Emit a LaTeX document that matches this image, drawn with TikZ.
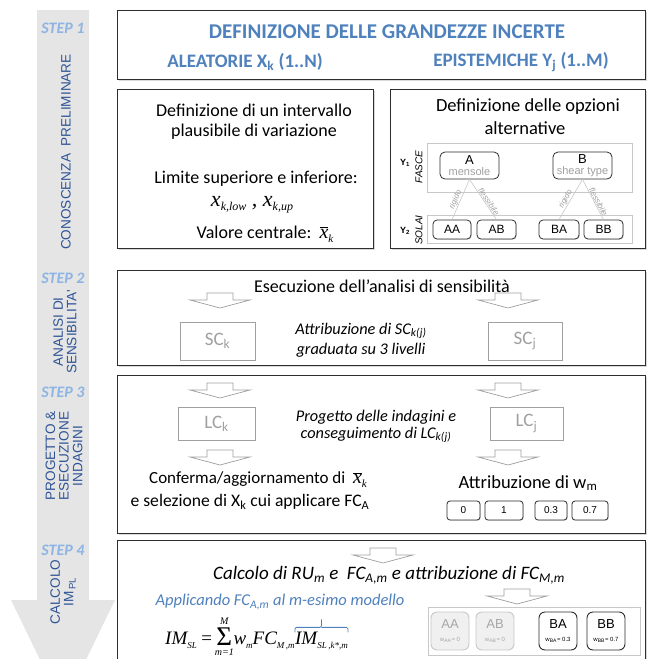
\documentclass[tikz,border=0pt]{standalone}
\usepackage{fontspec}
\setmainfont{Carlito}
\newfontfamily\arial{Liberation Sans}
\newfontfamily\tms{Liberation Serif}
\usetikzlibrary{shadows}

\definecolor{titleblue}{RGB}{79,129,189}
\definecolor{sideblue}{RGB}{46,84,150}
\definecolor{steplight}{RGB}{142,180,227}
\definecolor{bandgray}{RGB}{229,229,229}
\definecolor{framegray}{RGB}{45,45,45}
\definecolor{softgray}{RGB}{160,160,160}
\definecolor{rulegray}{RGB}{200,200,200}

\newcommand\fsz[1]{\fontsize{#1}{#1}\selectfont}
% small italic Times subscript, lowered
\newcommand\tsub[2][11]{\raisebox{-4pt}{\fsz{#1}#2}}
\newcommand\xbark{$\overline{\hbox{\tms\itshape\fsz{20}x}}$\tsub[11]{\tms\itshape k}}

\tikzset{
  panel/.style={draw=framegray, line width=1pt, fill=white, inner sep=0pt,
    anchor=north west,
    drop shadow={shadow xshift=1.2pt, shadow yshift=-1.2pt, opacity=0.3}},
  steplabel/.style={font=\bfseries\itshape\fsz{16}, text=steplight},
  sidelabel/.style={font=\arial\fsz{13.6}, text=sideblue, rotate=90, align=center},
  body/.style={font=\fsz{18}},
  ibody/.style={font=\itshape\fsz{16.3}},
  optbox/.style={draw=framegray, line width=0.8pt, rounded corners=5pt, fill=white,
    inner sep=0pt, align=center, font=\arial},
  leafbox/.style={draw=framegray, line width=0.8pt, rounded corners=4pt, fill=white,
    inner sep=0pt, minimum height=19pt, font=\arial\fsz{12},
    drop shadow={shadow xshift=0.8pt, shadow yshift=-0.8pt, opacity=0.25}},
  wbox/.style={draw=framegray, line width=0.8pt, rounded corners=3pt, fill=white,
    inner sep=0pt, minimum height=19pt, font=\arial\fsz{10},
    drop shadow={shadow xshift=0.8pt, shadow yshift=-0.8pt, opacity=0.25}},
  grayframe/.style={draw=rulegray, line width=0.7pt, inner sep=0pt, anchor=north west},
  lvlbox/.style={draw=softgray, line width=0.8pt, inner sep=0pt, text=softgray,
    font=\fsz{19}},
  mbox/.style={rounded corners=6pt, line width=0.9pt, inner sep=0pt, align=center,
    minimum width=38pt, minimum height=38pt, font=\arial},
  branch/.style={draw=rulegray, line width=0.6pt},
  branchlab/.style={sloped, above, inner sep=0.5pt, text=softgray, font=\arial\itshape\fsz{8}},
  fpart/.style={anchor=base west, inner sep=0pt, font=\tms\itshape\fsz{19}},
  flimit/.style={inner sep=0pt, font=\tms\itshape\fsz{10}},
  downarrow/.pic={\draw[draw=softgray, fill=white, line width=0.7pt]
    (-13,0) -- (13,0) -- (13,7) -- (30,7) -- (0,15) -- (-30,7) -- (-13,7) -- cycle;}
}

\begin{document}
\begin{tikzpicture}[x=1pt,y=-1pt]
\useasboundingbox (0,0) rectangle (647,659);
\clip (0,0) rectangle (647,659);

% left band with the process arrow
\fill[bandgray] (37,10) -- (89,10) -- (89,600) -- (115,600) -- (63,707)
  -- (11,600) -- (37,600) -- cycle;

\node[steplabel] (s1) at (63,28) {STEP 1};
\node[steplabel] (s2) at (63,278) {STEP 2};
\node[steplabel] (s3) at (63,392) {STEP 3};
\node[steplabel] (s4) at (63,550) {STEP 4};

\node[sidelabel] (c1) at (66,152) {CONOSCENZA\ \ PRELIMINARE};
\node[sidelabel] (c2) at (65,332) {ANALISI DI\\SENSIBILITA'};
\node[sidelabel] (c3) at (64,456) {PROGETTO \&\\ESECUZIONE\\INDAGINI};
\node[sidelabel] (c4) at (63,592) {CALCOLO\\IM\,\textsubscript{PL}};

% panels
\node[panel, minimum width=528pt, minimum height=69pt] (p1) at (117,10) {};
\node[panel, minimum width=256pt, minimum height=159pt] (p2l) at (117,89) {};
\node[panel, minimum width=255pt, minimum height=159pt] (p2r) at (390,89) {};
\node[panel, minimum width=528pt, minimum height=95pt] (p3) at (117,270) {};
\node[panel, minimum width=528pt, minimum height=158pt] (p4) at (117,375) {};
\node[panel, minimum width=528pt, minimum height=140pt] (p5) at (117,540) {};

% step 1: uncertain quantities
\node[font=\bfseries\fsz{21}, text=titleblue] (title) at (387,32)
  {DEFINIZIONE DELLE GRANDEZZE INCERTE};
\node[font=\bfseries\fsz{19}, text=titleblue] (alea) at (245,62)
  {ALEATORIE X\textsubscript{k} (1..N)};
\node[font=\bfseries\fsz{19}, text=titleblue] (epis) at (521,62)
  {EPISTEMICHE Y\textsubscript{j} (1..M)};

\node[body] (d1) at (254,110) {Definizione di un intervallo};
\node[body] (d2) at (254,132) {plausibile di variazione};
\node[body] (d3) at (256,179) {Limite superiore e inferiore:};
\node (d4) at (252,205) {\tms\itshape\fsz{22}x\tsub[12]{k,low}\ , x\tsub[12]{k,up}};
\node[body] (d5) at (265,234) {Valore centrale:\ \ \xbark};

\node[body, font=\fsz{18.5}] (o1) at (528,107) {Definizione delle opzioni};
\node[body, font=\fsz{18.5}] (o2) at (525,128) {alternative};

\node[grayframe, minimum width=205pt, minimum height=49pt] (r1) at (427,143) {};
\node[grayframe, minimum width=205pt, minimum height=28pt] (r2) at (427,215) {};

\node[font=\arial\bfseries\fsz{9}] (y1) at (405,163) {Y\textsubscript{1}};
\node[font=\arial\itshape\fsz{10}, rotate=90] (fasce) at (419,167) {FASCE};
\node[font=\arial\bfseries\fsz{9}] (y2) at (405,231) {Y\textsubscript{2}};
\node[font=\arial\itshape\fsz{10}, rotate=90] (solai) at (419,230) {SOLAI};

\node[optbox, minimum width=59pt, minimum height=27pt] (A) at (469.5,165.5)
  {\fsz{13}A\\[-1pt]{\color{softgray}\fsz{11}mensole}};
\node[optbox, minimum width=59pt, minimum height=27pt] (B) at (582.5,165.5)
  {\fsz{13}B\\[-1pt]{\color{softgray}\fsz{11}shear type}};

\node[leafbox, minimum width=38pt] (AA) at (452,229.5) {AA};
\node[leafbox, minimum width=39pt] (AB) at (496.5,229.5) {AB};
\node[leafbox, minimum width=40pt] (BA) at (559,229.5) {BA};
\node[leafbox, minimum width=39pt] (BB) at (603.5,229.5) {BB};

\draw[branch] (A.south) -- node[branchlab, pos=0.55] {rigido} (AA.north);
\draw[branch] (A.south) -- node[branchlab, pos=0.6] {flessibile} (AB.north);
\draw[branch] (B.south) -- node[branchlab, pos=0.55] {rigido} (BA.north);
\draw[branch] (B.south) -- node[branchlab, pos=0.6] {flessibile} (BB.north);

% step 2: sensitivity analysis
\node[font=\fsz{18}] (sens) at (382,286) {Esecuzione dell’analisi di sensibilità};
\pic at (220,293) {downarrow};
\pic at (508,293) {downarrow};
\node[lvlbox, minimum width=75pt, minimum height=38pt] (SCk) at (217.5,341)
  {SC\textsubscript{k}};
\node[lvlbox, minimum width=74pt, minimum height=38pt] (SCj) at (525,341)
  {SC\textsubscript{j}};
\node[ibody] (sc1) at (361,331) {Attribuzione di SC\textsubscript{k(j)}};
\node[ibody] (sc2) at (361,350) {graduata su 3 livelli};

% step 3: surveys
\pic at (220,383) {downarrow};
\pic at (508,383) {downarrow};
\node[lvlbox, minimum width=77pt, minimum height=33pt] (LCk) at (216.5,423.5)
  {LC\textsubscript{k}};
\node[lvlbox, minimum width=73pt, minimum height=33pt] (LCj) at (526.5,423.5)
  {LC\textsubscript{j}};
\pic at (220,450) {downarrow};
\pic at (508,450) {downarrow};
\node[ibody] (lc1) at (376,417) {Progetto delle indagini e};
\node[ibody] (lc2) at (376,435) {conseguimento di LC\textsubscript{k(j)}};

\node[body, font=\fsz{17}] (cf1) at (258,480) {Conferma/aggiornamento di\ \ \xbark};
\node[body, font=\fsz{17.6}] (cf2) at (250,502) {e selezione di X\textsubscript{k} cui applicare FC\textsubscript{A}};
\node[body, font=\fsz{18.5}] (wm) at (528,483) {Attribuzione di w\textsubscript{m}};

\node[wbox, minimum width=33pt] (w0) at (463.5,510.5) {0};
\node[wbox, minimum width=38pt] (w1) at (504,510.5) {1};
\node[wbox, minimum width=32pt] (w3) at (551,510.5) {0.3};
\node[wbox, minimum width=36pt] (w7) at (590,510.5) {0.7};

% step 4: model computation
\pic at (383,548) {downarrow};
\node[font=\itshape\fsz{19}] (calc) at (389,575)
  {Calcolo di RU\textsubscript{m} e\ \ FC\textsubscript{A,m} e attribuzione di FC\textsubscript{M,m}};
\pic at (517,589) {downarrow};
\node[font=\itshape\fsz{16.5}, text=titleblue] (appl) at (280,602)
  {Applicando FC\textsubscript{A,m} al m-esimo modello};

% IM_SL = sum_{m=1}^{M} w_m FC_{M,m} IM_{SL,k*,m}
\node[fpart] (f1) at (165,644) {IM\tsub[9]{SL}\,=\,};
\node[fpart, font=\tms\fsz{27}, yshift=-1.5pt] (f2) at (f1.base east) {Σ};
\node[flimit, anchor=base] (fM) at ([yshift=21pt]f2.base) {M};
\node[flimit, anchor=north] (fm) at ([yshift=-3pt]f2.base) {m=1};
\node[fpart, xshift=1pt] (f3) at (f2.base east |- f1.base) {w\tsub[9]{m}FC\tsub[9]{M\,,m}};
\node[fpart] (fr) at (f3.base east) {IM\tsub[9]{SL\,,k*,m}};
\draw[titleblue, line width=0.8pt, rounded corners=1.5pt]
  ([yshift=-1pt]fr.north west) |- ([yshift=4pt]fr.north) -- ([yshift=12pt]fr.north);
\draw[titleblue, line width=0.8pt, rounded corners=1.5pt]
  ([yshift=4pt]fr.north) -| ([yshift=-1pt]fr.north east);

\node[grayframe, minimum width=212pt, minimum height=48pt] (r3) at (428,607) {};
\node[mbox, draw=rulegray, fill=black!6, text=black!35] (mAA) at (450,631)
  {\fsz{13}AA\\[1pt]\fsz{6}w\textsubscript{AA}= 0};
\node[mbox, draw=rulegray, fill=black!6, text=black!35] (mAB) at (495,631)
  {\fsz{13}AB\\[1pt]\fsz{6}w\textsubscript{AB}= 0};
\node[mbox, draw=framegray, fill=white] (mBA) at (558,631)
  {\fsz{13}BA\\[1pt]\fsz{6}w\textsubscript{BA}= 0.3};
\node[mbox, draw=framegray, fill=white] (mBB) at (606,631)
  {\fsz{13}BB\\[1pt]\fsz{6}w\textsubscript{BB}= 0.7};
\end{tikzpicture}
\end{document}
